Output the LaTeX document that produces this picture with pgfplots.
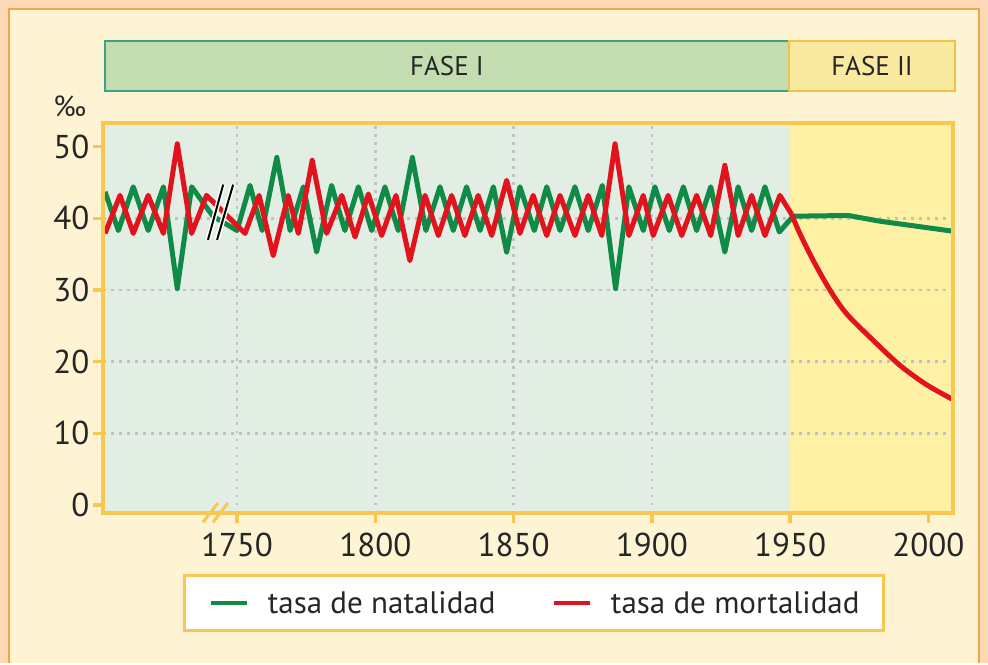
\documentclass[border=0pt]{standalone}
\usepackage{pgfplots}
\pgfplotsset{compat=1.18}
\usepackage{fontspec}
\setmainfont{PT Sans}
\definecolor{peach}{HTML}{FDD8B5}
\definecolor{orangeline}{HTML}{F2A54A}
\definecolor{cream}{HTML}{FEF3D2}
\definecolor{bgleft}{HTML}{E2EEE4}
\definecolor{bgright}{HTML}{FEF1A4}
\definecolor{gold}{HTML}{F7C752}
\definecolor{faseone}{HTML}{C3DDB1}
\definecolor{faseoneb}{HTML}{3AA387}
\definecolor{fasetwo}{HTML}{F9EAA0}
\definecolor{fasetwob}{HTML}{EFC24A}
\definecolor{natal}{HTML}{108A47}
\definecolor{mort}{HTML}{E1141E}
\definecolor{gridc}{HTML}{BFC2C2}
\begin{document}
\begin{tikzpicture}[x=1pt,y=1pt]
\fill[peach] (0,0) rectangle (988,663);
\fill[cream] (9,0) rectangle (979,654);
\draw[orangeline, line width=2.5pt] (9,0) -- (9,654) -- (979,654) -- (979,0);
\filldraw[fill=faseone, draw=faseoneb, line width=2pt] (105,572) rectangle (789,622);
\filldraw[fill=fasetwo, draw=fasetwob, line width=2pt] (789,572) rectangle (955,622);
\node[font=\fontsize{27}{27}\selectfont, text=black!85] at (447,597) {FASE I};
\node[font=\fontsize{27}{27}\selectfont, text=black!85] at (872,597) {FASE II};
\node[font=\fontsize{29}{29}\selectfont, text=black!85] at (70,557) {‰};
\begin{axis}[
  at={(103pt,150pt)}, anchor=south west,
  scale only axis, width=850pt, height=390pt,
  xmin=1701.55, xmax=2008.9, ymin=-1.1, ymax=53.3,
  clip=false, axis on top,
  axis line style={draw=gold, line width=4pt},
  xtick={1750,1800,1850,1900,1950,2000},
  ytick={0,10,20,30,40,50},
  xtick pos=bottom, ytick pos=left, tick align=outside,
  major tick length=10pt,
  tick style={gold, line width=3.5pt},
  ticklabel style={font=\fontsize{33}{33}\selectfont, text=black!85},
  xticklabel style={yshift=-6pt},
  /pgf/number format/assume math mode=true,
  /pgf/number format/set thousands separator={},
  legend columns=2,
  legend cell align=left,
  legend image code/.code={\draw[#1, line width=4.5pt] (0pt,0pt) -- (36pt,0pt);},
  legend style={at={(0.094,-0.156)}, anchor=north west, draw=gold, line width=3pt,
    fill=white, font=\fontsize{31}{31}\selectfont, text=black!85,
    inner xsep=24pt, inner ysep=12pt,
    nodes={inner xsep=0pt, inner ysep=4pt},
    /tikz/every odd column/.append style={column sep=19pt},
    /tikz/every even column/.append style={column sep=56pt}},
]
\addplot[draw=none, fill=bgleft, forget plot] coordinates {(1701.55,-1.1) (1950,-1.1) (1950,53.3) (1701.55,53.3)} -- cycle;
\addplot[draw=none, fill=bgright, forget plot] coordinates {(1950,-1.1) (2008.9,-1.1) (2008.9,53.3) (1950,53.3)} -- cycle;
\addplot[gridc, line width=2.5pt, dash pattern=on 2.5pt off 5.5pt, forget plot] coordinates {(1701.55,10) (2008.9,10)};
\addplot[gridc, line width=2.5pt, dash pattern=on 2.5pt off 5.5pt, forget plot] coordinates {(1701.55,20) (2008.9,20)};
\addplot[gridc, line width=2.5pt, dash pattern=on 2.5pt off 5.5pt, forget plot] coordinates {(1701.55,30) (2008.9,30)};
\addplot[gridc, line width=2.5pt, dash pattern=on 2.5pt off 5.5pt, forget plot] coordinates {(1701.55,40) (2008.9,40)};
\addplot[gridc, line width=2.5pt, dash pattern=on 2.5pt off 5.5pt, forget plot] coordinates {(1750,-1.1) (1750,53.3)};
\addplot[gridc, line width=2.5pt, dash pattern=on 2.5pt off 5.5pt, forget plot] coordinates {(1800,-1.1) (1800,53.3)};
\addplot[gridc, line width=2.5pt, dash pattern=on 2.5pt off 5.5pt, forget plot] coordinates {(1850,-1.1) (1850,53.3)};
\addplot[gridc, line width=2.5pt, dash pattern=on 2.5pt off 5.5pt, forget plot] coordinates {(1900,-1.1) (1900,53.3)};
\addplot[natal, line width=5pt, line join=round] coordinates {
(1702.3,43.7) (1707.1,38.3) (1712.5,44.4) (1717.9,38.3) (1723.4,44.4) (1728.4,30.2)
(1733.6,44.4) (1741.3,40.3) (1750,38.3) (1754.7,44.6) (1759.1,38.3) (1764.4,48.5)
(1769.2,38.3) (1774,44.4) (1778.8,35.3) (1784.2,44.6) (1789,38.3) (1793.9,44.4)
(1798.7,38.3) (1803.5,44.4) (1808.3,38.3) (1813.4,48.5) (1818.3,38.3) (1823.4,44.4)
(1828.2,38.3) (1833,44.4) (1837.9,38.3) (1842.7,44.4) (1847.5,35.3) (1852.3,44.4)
(1857.5,38.3) (1862,44.4) (1866.8,38.3) (1872.2,44.4) (1877,38.3) (1882.1,44.6)
(1886.9,30.2) (1891.7,44.4) (1896.9,38.3) (1901.1,44.4) (1906.3,38.3) (1911.4,44.4)
(1916.2,38.3) (1921.3,44.4) (1926.4,35.3) (1931.2,44.4) (1936.1,38.3) (1940.9,44.4)
(1946.1,38.1) (1951.1,40.3) (1971,40.4) (1982.5,39.6) (2009,38.2)};
\addlegendentry{tasa de natalidad}
\addplot[mort, line width=5pt, line join=round] coordinates {
(1702.3,37.9) (1707.7,43.2) (1712.5,37.9) (1717.9,43.2) (1723.4,37.9) (1728.4,50.4)
(1733.6,37.9) (1739,43.2) (1752.9,37.9) (1758,43.2) (1763.1,34.8) (1768.5,43.2)
(1772.2,37.9) (1777.2,48.1) (1782.4,37.9) (1787.9,43.2) (1792.7,37.4) (1797.5,43.4)
(1802.3,37.6) (1807.5,43.2) (1812.5,34.1) (1818,43.2) (1822.8,37.6) (1827.6,43.2)
(1832.4,37.6) (1837.2,43.2) (1842.1,37.6) (1847.5,45.3) (1852.3,37.9) (1857.1,43.2)
(1862,37.6) (1866.8,43.2) (1872.2,37.6) (1877,43.2) (1881.9,37.6) (1886.7,50.4)
(1891.7,37.6) (1896.9,43.2) (1900.5,37.6) (1905.9,43.2) (1910.8,37.6) (1916.2,43.2)
(1921.3,37.6) (1926.4,47.4) (1931.2,37.6) (1936.1,43.2) (1940.9,37.6) (1946.3,43.2)
(1950.5,40.6)};
\addlegendentry{tasa de mortalidad}
\addplot[mort, line width=5pt, line join=round, smooth, forget plot] coordinates {
(1950.5,40.6) (1953.5,37.9) (1958.4,34.1) (1964.4,30.0) (1970.4,26.7) (1980,23.0)
(1989.7,19.5) (1999.3,16.8) (2009,14.7)};
\draw[white, line width=5pt] (axis cs:1739.5,37.0) -- (axis cs:1745,44.7);
\draw[white, line width=5pt] (axis cs:1742.8,37.0) -- (axis cs:1748.6,44.7);
\draw[black, line width=2pt] (axis cs:1739.5,37.0) -- (axis cs:1745,44.7);
\draw[black, line width=2pt] (axis cs:1742.8,37.0) -- (axis cs:1748.6,44.7);
\draw[gold, line width=3pt] (axis cs:1737.7,-2.4) -- (axis cs:1743.1,0.3);
\draw[gold, line width=3pt] (axis cs:1741.3,-2.4) -- (axis cs:1746.7,0.3);
\end{axis}
\end{tikzpicture}
\end{document}
